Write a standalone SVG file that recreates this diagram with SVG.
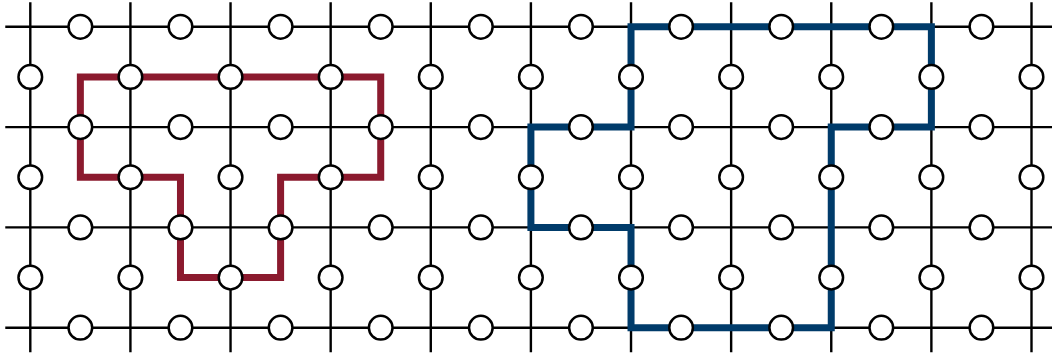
<svg xmlns="http://www.w3.org/2000/svg" width="1052" height="358" viewBox="0 0 1052 358">
<style>
.grid line{stroke:#000;stroke-width:2.4}
.loop{fill:none;stroke-width:7;stroke-linejoin:miter;stroke-miterlimit:10}
.red{stroke:#8b1a2e}
.blue{stroke:#003b6a}
.n{fill:#fff;stroke:#000;stroke-width:2.5}
</style>
<rect width="1052" height="358" fill="#fff"/>
<g transform="translate(30.3 26.8) scale(1.0012 1.003)">
<g id="connectors">
<g class="grid">
<line x1="-25" y1="0" x2="1040" y2="0"/>
<line x1="-25" y1="100" x2="1040" y2="100"/>
<line x1="-25" y1="200" x2="1040" y2="200"/>
<line x1="-25" y1="300" x2="1040" y2="300"/>
<line x1="0" y1="-24.5" x2="0" y2="324.5"/>
<line x1="100" y1="-24.5" x2="100" y2="324.5"/>
<line x1="200" y1="-24.5" x2="200" y2="324.5"/>
<line x1="300" y1="-24.5" x2="300" y2="324.5"/>
<line x1="400" y1="-24.5" x2="400" y2="324.5"/>
<line x1="500" y1="-24.5" x2="500" y2="324.5"/>
<line x1="600" y1="-24.5" x2="600" y2="324.5"/>
<line x1="700" y1="-24.5" x2="700" y2="324.5"/>
<line x1="800" y1="-24.5" x2="800" y2="324.5"/>
<line x1="900" y1="-24.5" x2="900" y2="324.5"/>
<line x1="1000" y1="-24.5" x2="1000" y2="324.5"/>
</g>
<path id="loop-red" class="loop red" d="M50 50H350V150H250V250H150V150H50Z"/>
<path id="loop-blue" class="loop blue" d="M600 0H900V100H800V300H600V200H500V100H600Z"/>
</g>
<g id="nodes">
<g id="h0"><circle class="n" cx="50" cy="0" r="11.8"/><circle class="n" cx="150" cy="0" r="11.8"/><circle class="n" cx="250" cy="0" r="11.8"/><circle class="n" cx="350" cy="0" r="11.8"/><circle class="n" cx="450" cy="0" r="11.8"/><circle class="n" cx="550" cy="0" r="11.8"/><circle class="n" cx="650" cy="0" r="11.8"/><circle class="n" cx="750" cy="0" r="11.8"/><circle class="n" cx="850" cy="0" r="11.8"/><circle class="n" cx="950" cy="0" r="11.8"/></g>
<g id="h1"><circle class="n" cx="50" cy="100" r="11.8"/><circle class="n" cx="150" cy="100" r="11.8"/><circle class="n" cx="250" cy="100" r="11.8"/><circle class="n" cx="350" cy="100" r="11.8"/><circle class="n" cx="450" cy="100" r="11.8"/><circle class="n" cx="550" cy="100" r="11.8"/><circle class="n" cx="650" cy="100" r="11.8"/><circle class="n" cx="750" cy="100" r="11.8"/><circle class="n" cx="850" cy="100" r="11.8"/><circle class="n" cx="950" cy="100" r="11.8"/></g>
<g id="h2"><circle class="n" cx="50" cy="200" r="11.8"/><circle class="n" cx="150" cy="200" r="11.8"/><circle class="n" cx="250" cy="200" r="11.8"/><circle class="n" cx="350" cy="200" r="11.8"/><circle class="n" cx="450" cy="200" r="11.8"/><circle class="n" cx="550" cy="200" r="11.8"/><circle class="n" cx="650" cy="200" r="11.8"/><circle class="n" cx="750" cy="200" r="11.8"/><circle class="n" cx="850" cy="200" r="11.8"/><circle class="n" cx="950" cy="200" r="11.8"/></g>
<g id="h3"><circle class="n" cx="50" cy="300" r="11.8"/><circle class="n" cx="150" cy="300" r="11.8"/><circle class="n" cx="250" cy="300" r="11.8"/><circle class="n" cx="350" cy="300" r="11.8"/><circle class="n" cx="450" cy="300" r="11.8"/><circle class="n" cx="550" cy="300" r="11.8"/><circle class="n" cx="650" cy="300" r="11.8"/><circle class="n" cx="750" cy="300" r="11.8"/><circle class="n" cx="850" cy="300" r="11.8"/><circle class="n" cx="950" cy="300" r="11.8"/></g>
<g id="v0"><circle class="n" cx="0" cy="50" r="11.8"/><circle class="n" cx="100" cy="50" r="11.8"/><circle class="n" cx="200" cy="50" r="11.8"/><circle class="n" cx="300" cy="50" r="11.8"/><circle class="n" cx="400" cy="50" r="11.8"/><circle class="n" cx="500" cy="50" r="11.8"/><circle class="n" cx="600" cy="50" r="11.8"/><circle class="n" cx="700" cy="50" r="11.8"/><circle class="n" cx="800" cy="50" r="11.8"/><circle class="n" cx="900" cy="50" r="11.8"/><circle class="n" cx="1000" cy="50" r="11.8"/></g>
<g id="v1"><circle class="n" cx="0" cy="150" r="11.8"/><circle class="n" cx="100" cy="150" r="11.8"/><circle class="n" cx="200" cy="150" r="11.8"/><circle class="n" cx="300" cy="150" r="11.8"/><circle class="n" cx="400" cy="150" r="11.8"/><circle class="n" cx="500" cy="150" r="11.8"/><circle class="n" cx="600" cy="150" r="11.8"/><circle class="n" cx="700" cy="150" r="11.8"/><circle class="n" cx="800" cy="150" r="11.8"/><circle class="n" cx="900" cy="150" r="11.8"/><circle class="n" cx="1000" cy="150" r="11.8"/></g>
<g id="v2"><circle class="n" cx="0" cy="250" r="11.8"/><circle class="n" cx="100" cy="250" r="11.8"/><circle class="n" cx="200" cy="250" r="11.8"/><circle class="n" cx="300" cy="250" r="11.8"/><circle class="n" cx="400" cy="250" r="11.8"/><circle class="n" cx="500" cy="250" r="11.8"/><circle class="n" cx="600" cy="250" r="11.8"/><circle class="n" cx="700" cy="250" r="11.8"/><circle class="n" cx="800" cy="250" r="11.8"/><circle class="n" cx="900" cy="250" r="11.8"/><circle class="n" cx="1000" cy="250" r="11.8"/></g>
</g>
</g>
</svg>
